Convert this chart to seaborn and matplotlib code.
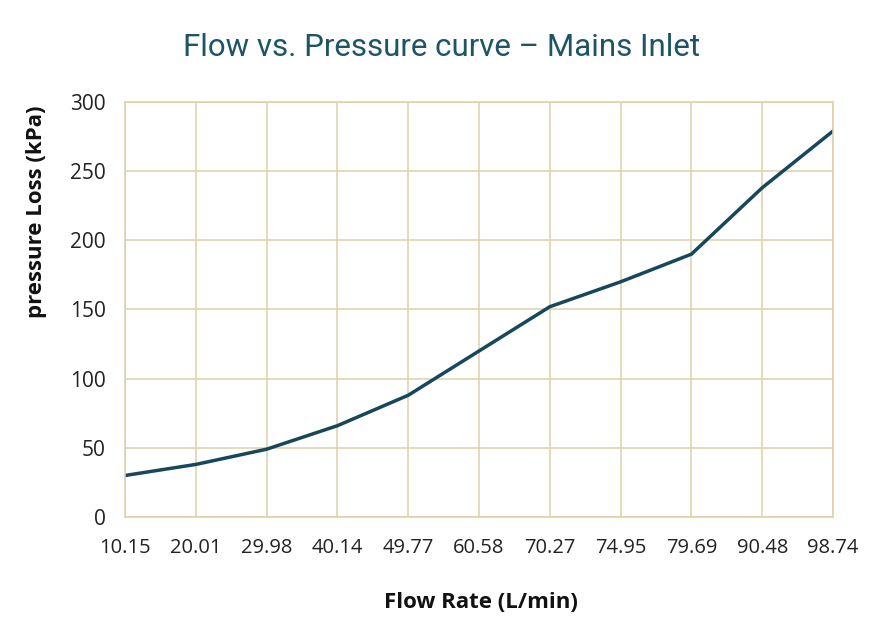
import matplotlib
matplotlib.use("Agg")
import matplotlib.pyplot as plt
import seaborn as sns
import pandas as pd

flow_labels = ["10.15", "20.01", "29.98", "40.14", "49.77", "60.58",
               "70.27", "74.95", "79.69", "90.48", "98.74"]
pressure_kpa = [30, 38, 49, 66, 88, 120, 152, 170, 190, 238, 279]
y_ticks = [0, 50, 100, 150, 200, 250, 300]

sns.set_style("white")
plt.rcParams["font.family"] = ["Open Sans", "DejaVu Sans"]

grid_color = "#ddd0a8"
line_color = "#17475a"

df = pd.DataFrame({"flow": flow_labels, "pressure": pressure_kpa})

fig = plt.figure(figsize=(8.83, 6.37), dpi=100)
ax = fig.add_axes([0.1416, 0.1884, 0.8018, 0.6515])

sns.lineplot(data=df, x="flow", y="pressure", sort=False, ax=ax,
             color=line_color, linewidth=2.5)

ax.set_xlim(0, len(flow_labels) - 1)
ax.set_ylim(0, 300)
ax.set_yticks(y_ticks)
ax.grid(True, color=grid_color, linewidth=1.1)
ax.set_axisbelow(True)
for sp in ax.spines.values():
    sp.set_color(grid_color)
    sp.set_linewidth(1.1)

ax.tick_params(axis="x", length=0, pad=15, labelsize=14.5, labelcolor="#222222")
ax.tick_params(axis="y", length=0, pad=14, labelsize=15, labelcolor="#222222")
ax.set_xlabel("")
ax.set_ylabel("")

fig.text(0.5, 1 - 48 / 637, "Flow vs. Pressure curve \u2013 Mains Inlet",
         ha="center", va="center", fontsize=22.5, color="#1d5566",
         family=["Roboto", "DejaVu Sans"])
fig.text(481 / 883, 1 - 603 / 637, "Flow Rate (L/min)", ha="center", va="center",
         fontsize=16, fontweight="bold", color="#111111")
fig.text(37 / 883, 1 - 212 / 637, "pressure Loss (kPa)", ha="center", va="center",
         rotation=90, fontsize=16, fontweight="bold", color="#111111")

fig.savefig("out.png", dpi=100)
